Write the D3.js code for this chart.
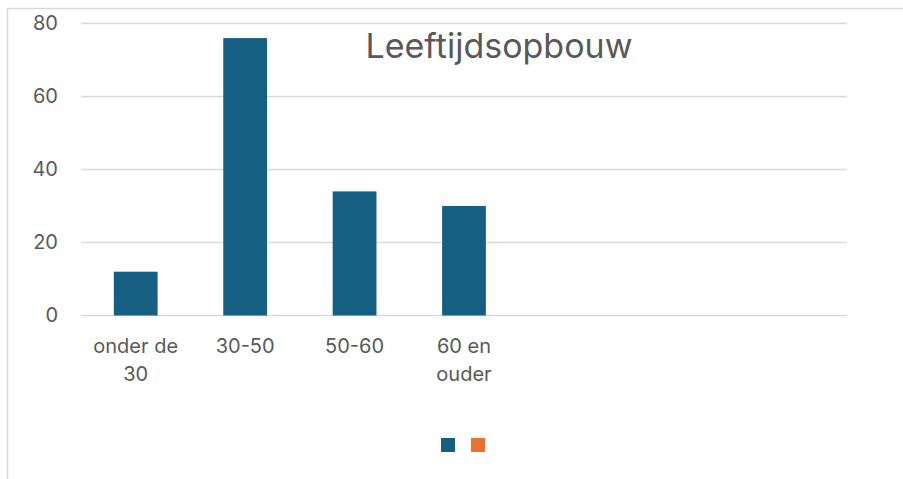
<!DOCTYPE html>
<html><head><meta charset="utf-8">
<script src="https://cdn.jsdelivr.net/npm/d3@7"></script>
<style>body{margin:0;background:#fff}svg{display:block}text{font-family:Inter,"Open Sans",sans-serif;fill:#595959}</style>
</head><body>
<svg id="c" width="903" height="479"></svg>
<script>
const categories = ["onder de 30", "30-50", "50-60", "60 en ouder", "", "", ""];
const series1 = [12, 76, 34, 30, null, null, null];
const series2 = [null, null, null, null, null, null, null];
const yTicks = [0, 20, 40, 60, 80];
const title = "Leeftijdsopbouw";
const colors = ["#156082", "#E97132"];

const svg = d3.select("#c");
// chart area border (cropped at right/bottom)
svg.append("path").attr("d", "M7.5,480 V8.5 H904").attr("fill", "none").attr("stroke", "#d9d9d9").attr("stroke-width", 1.5);

const x = d3.scaleBand().domain(d3.range(categories.length)).range([81, 847]).paddingInner(0.6).paddingOuter(0.3);
const y = d3.scaleLinear().domain([0, 80]).range([315.5, 23.5]);

// gridlines
svg.append("g").selectAll("line").data(yTicks).join("line")
  .attr("x1", 81).attr("x2", 847).attr("y1", d => y(d)).attr("y2", d => y(d))
  .attr("stroke", "#d9d9d9").attr("stroke-width", 1.5);

// y axis labels
const yAxis = d3.axisLeft(y).tickValues(yTicks).tickSize(0).tickPadding(0);
const gy = svg.append("g").attr("transform", "translate(58,0)").call(yAxis);
gy.select(".domain").remove();
gy.selectAll("text").attr("font-size", 20).attr("fill", "#595959").style("font-family", "Inter, 'Open Sans', sans-serif");

// bars
svg.append("g").selectAll("rect").data(series1.map((v, i) => ({v, i})).filter(d => d.v != null)).join("rect")
  .attr("x", d => x(d.i)).attr("width", x.bandwidth())
  .attr("y", d => y(d.v)).attr("height", d => y(0) - y(d.v))
  .attr("fill", colors[0]);

// category labels with wrapping
function wrapLines(s, maxW, fs) {
  const ctx = document.createElement("canvas").getContext("2d");
  ctx.font = fs + "px Inter";
  const words = s.split(" ");
  const lines = []; let cur = "";
  words.forEach(w => {
    const t = cur ? cur + " " + w : w;
    if (ctx.measureText(t).width > maxW && cur) { lines.push(cur); cur = w; } else cur = t;
  });
  if (cur) lines.push(cur);
  return lines;
}
const gx = svg.append("g");
categories.forEach((c, i) => {
  if (!c) return;
  const lines = wrapLines(c, 100, 20);
  const t = gx.append("text").attr("text-anchor", "middle").attr("font-size", 20)
    .attr("x", x(i) + x.bandwidth() / 2).attr("y", 353);
  lines.forEach((l, k) => t.append("tspan").attr("x", x(i) + x.bandwidth() / 2).attr("dy", k ? 28 : 0).text(l));
});

// title
svg.append("text").attr("x", 499).attr("y", 58).attr("text-anchor", "middle").attr("font-size", 34).text(title);

// legend
svg.append("g").selectAll("rect").data(colors).join("rect")
  .attr("x", (d, i) => 441 + i * 30).attr("y", 438).attr("width", 14).attr("height", 14).attr("fill", d => d);
</script>
</body></html>
